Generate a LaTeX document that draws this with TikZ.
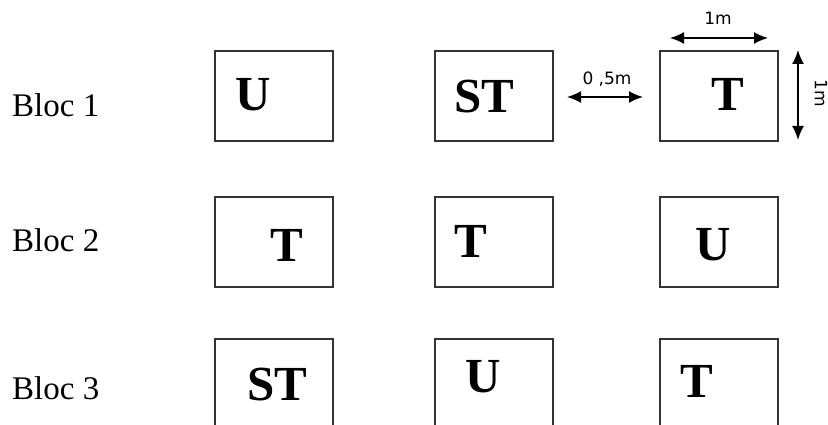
\documentclass[tikz,border=0pt]{standalone}
\usepackage{fontspec}
\setmainfont{Liberation Serif}
\newfontfamily\dimfont{DejaVu Sans}
\usetikzlibrary{arrows.meta}
\tikzset{
  plot/.style={draw=black!80, line width=1.6pt, minimum width=118pt, minimum height=90pt, inner sep=0pt, anchor=north west},
  tall/.style={plot, minimum height=100pt},
  crop/.style={font=\fontsize{49}{49}\selectfont\bfseries, inner sep=0pt},
  bloc/.style={font=\fontsize{33}{33}\selectfont, inner sep=0pt, anchor=west},
  dimlabel/.style={font=\dimfont\fontsize{17}{17}\selectfont, inner sep=0pt},
  dimarrow/.style={line width=1.8pt, {Latex[length=14pt,width=12pt]}-{Latex[length=14pt,width=12pt]}}
}
\begin{document}
\begin{tikzpicture}[x=1pt,y=-1pt]
\useasboundingbox (0,0) rectangle (828,425);
\clip (0,0) rectangle (828,425);
% row labels
\node[bloc] (b1) at (12,105) {Bloc 1};
\node[bloc] (b2) at (12,240) {Bloc 2};
\node[bloc] (b3) at (12,388) {Bloc 3};
% row 1
\node[plot] (p11) at (214,50) {};
\node[plot] (p12) at (434,50) {};
\node[plot] (p13) at (659,50) {};
% row 2
\node[plot] (p21) at (214,196) {};
\node[plot] (p22) at (434,196) {};
\node[plot] (p23) at (659,196) {};
% row 3
\node[tall] (p31) at (214,338) {};
\node[tall] (p32) at (434,338) {};
\node[tall] (p33) at (659,338) {};
% crop letters
\node[crop] (c11) at (253,95) {U};
\node[crop] (c12) at (484,97) {ST};
\node[crop] (c13) at (728,94) {T};
\node[crop] (c21) at (287,245) {T};
\node[crop] (c22) at (471,241) {T};
\node[crop] (c23) at (713,245) {U};
\node[crop] (c31) at (277,385) {ST};
\node[crop] (c32) at (483,377) {U};
\node[crop] (c33) at (697,381) {T};
% dimensions
\coordinate (gapL) at (567,97);
\coordinate (gapR) at (643,97);
\draw[dimarrow] (gapL) -- (gapR);
\node[dimlabel] (gaplab) at (607,79) {0 ,5m};
\coordinate (wL) at (670,38);
\coordinate (wR) at (768,38);
\draw[dimarrow] (wL) -- (wR);
\node[dimlabel] (wlab) at (718,18) {1m};
\coordinate (hT) at (798,50);
\coordinate (hB) at (798,140);
\draw[dimarrow] (hT) -- (hB);
\node[dimlabel, rotate=-90] (hlab) at (821,93) {1m};
\end{tikzpicture}
\end{document}
